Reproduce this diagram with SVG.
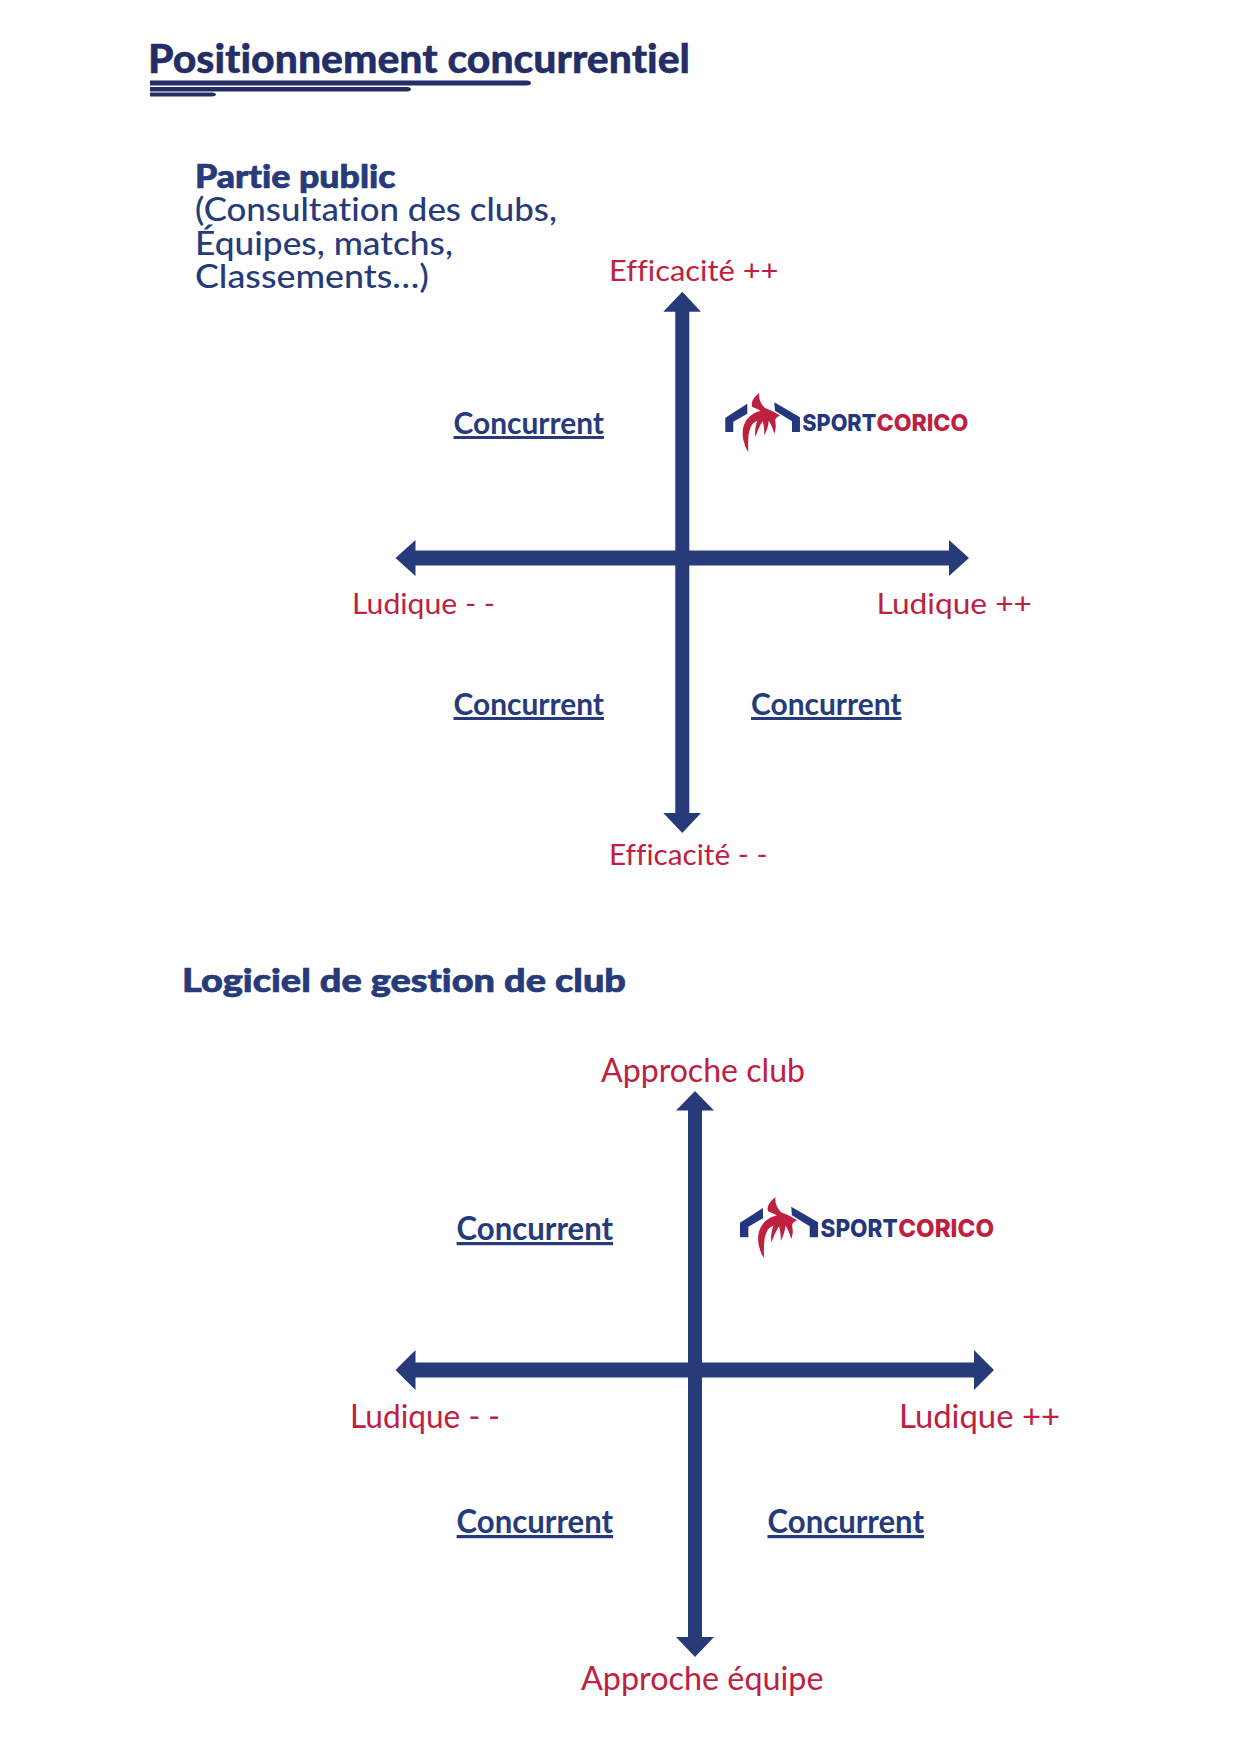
<svg xmlns="http://www.w3.org/2000/svg" xmlns:xlink="http://www.w3.org/1999/xlink" width="1242" height="1743" viewBox="0 0 1242 1743">
<style>
text{font-family:"Lato","Noto Sans",sans-serif;font-variant-ligatures:none}
.t{fill:#232d66;stroke:#232d66;stroke-width:.4px;font-size:40px;font-weight:900}
.h{fill:#273b7b;stroke:#273b7b;stroke-width:.7px;font-size:33px;font-weight:900}
.b{fill:#273b7b;font-size:33px;font-weight:500}
.r{fill:#bf2040;font-size:29px;font-weight:400}
.r2{fill:#bf2040;font-size:32px;font-weight:400}
.c{fill:#273b7b;font-size:30px;font-weight:700;text-decoration:underline}
.c2{fill:#273b7b;font-size:32px;font-weight:700;text-decoration:underline}
.ax{fill:#273b7b}
.n{fill:#24377e}.d{fill:#bf2040}
.ln{font-family:"Inter","Lato",sans-serif;font-weight:800;font-size:70px}
</style>
<defs>
<symbol id="logo" viewBox="46 40 729 177" preserveAspectRatio="none">
<g transform="translate(30 15)">
<path class="n" d="M15 100L82 57V87L40 111V142H15Z"/>
<path class="n" d="M163 53L240 98V142H216V110L165 78Z"/>
<path class="d" d="M118 25C101 38 91 54 97 67C108 71 116 74 122 79C104 82 86 94 76 112C66 130 66 155 72 172C75 185 80 195 85 202C84 170 84 145 92 128C96 118 102 112 112 108C106 125 104 140 106 157C112 142 118 125 128 110C132 122 133 136 133 152C140 139 146 124 146 108C153 118 159 132 163 147C167 136 169 125 166 112C164 102 170 96 180 93C165 83 150 75 135 70C125 60 115 45 118 25Z"/>
</g>
<text class="ln n" x="277" y="155" textLength="222" lengthAdjust="spacingAndGlyphs">SPORT</text>
<text class="ln d" x="500" y="155" textLength="275" lengthAdjust="spacingAndGlyphs">CORICO</text>
</symbol>
</defs>
<rect width="1242" height="1743" fill="#fff"/>
<g id="title">
<text class="t" x="148" y="73" textLength="542" lengthAdjust="spacingAndGlyphs">Positionnement concurrentiel</text>
<path fill="#232d66" d="M150 80.500H527Q531 81 531 83Q531 85 527 85.500H150Z"/>
<path fill="#232d66" d="M150 87H407Q411 87.500 411 89.200Q411 91 407 91.500H150Z"/>
<path fill="#232d66" d="M150 92.500H212Q216 93 216 94.500Q216 96 212 96.500H150Z"/>
</g>
<g id="heading-public">
<text class="h" x="195" y="187.500" textLength="200.500" lengthAdjust="spacingAndGlyphs">Partie public</text>
<text class="b" x="195" y="221" textLength="362" lengthAdjust="spacingAndGlyphs">(Consultation des clubs,</text>
<text class="b" x="195" y="254.500" textLength="258" lengthAdjust="spacingAndGlyphs">Équipes, matchs,</text>
<text class="b" x="195" y="288" textLength="234" lengthAdjust="spacingAndGlyphs">Classements…)</text>
</g>
<g id="connectors">
<path id="axis1v" class="ax" d="M682.300 291.700L701 311.700H689.300V813H701L682.300 833L663.300 813H675.300V311.700H663.300Z"/>
<path id="axis1h" class="ax" d="M395.500 558L415.500 540V550.500H949V540L969 558L949 576V565.500H415.500V576Z"/>
<path id="axis2v" class="ax" d="M695 1091L714 1110.500H702V1637H714L695 1657L676 1637H688V1110.500H676Z"/>
<path id="axis2h" class="ax" d="M395.500 1370L415.500 1350V1362.500H974V1350L994 1370L974 1390V1377.500H415.500V1390Z"/>
</g>
<g id="chart1-labels">
<text class="r" x="609" y="281" textLength="169.500" lengthAdjust="spacingAndGlyphs">Efficacité ++</text>
<text class="r" x="352" y="614" textLength="143" lengthAdjust="spacingAndGlyphs">Ludique - -</text>
<text class="r" x="876.500" y="614" textLength="155.500" lengthAdjust="spacingAndGlyphs">Ludique ++</text>
<text class="r" x="609" y="864.500" textLength="158.500" lengthAdjust="spacingAndGlyphs">Efficacité - -</text>
</g>
<g id="chart1-concurrents">
<text class="c" x="453.500" y="434" textLength="150.500" lengthAdjust="spacingAndGlyphs">Concurrent</text>
<text class="c" x="453.500" y="715" textLength="150.500" lengthAdjust="spacingAndGlyphs">Concurrent</text>
<text class="c" x="751" y="715" textLength="150.500" lengthAdjust="spacingAndGlyphs">Concurrent</text>
</g>
<g id="logo1"><use href="#logo" xlink:href="#logo" x="725.300" y="393" width="243" height="59"/></g>
<g id="heading-gestion">
<text class="h" x="182" y="992" textLength="444" lengthAdjust="spacingAndGlyphs">Logiciel de gestion de club</text>
</g>
<g id="chart2-labels">
<text class="r2" x="601" y="1082" textLength="204" lengthAdjust="spacingAndGlyphs">Approche club</text>
<text class="r2" x="350" y="1428" textLength="150" lengthAdjust="spacingAndGlyphs">Ludique - -</text>
<text class="r2" x="899" y="1428" textLength="161" lengthAdjust="spacingAndGlyphs">Ludique ++</text>
<text class="r2" x="581" y="1690" textLength="242.500" lengthAdjust="spacingAndGlyphs">Approche équipe</text>
</g>
<g id="chart2-concurrents">
<text class="c2" x="456.600" y="1240" textLength="156.500" lengthAdjust="spacingAndGlyphs">Concurrent</text>
<text class="c2" x="456.600" y="1533" textLength="156.500" lengthAdjust="spacingAndGlyphs">Concurrent</text>
<text class="c2" x="767.500" y="1533" textLength="156.500" lengthAdjust="spacingAndGlyphs">Concurrent</text>
</g>
<g id="logo2"><use href="#logo" xlink:href="#logo" x="740" y="1197" width="254" height="61"/></g>
</svg>
